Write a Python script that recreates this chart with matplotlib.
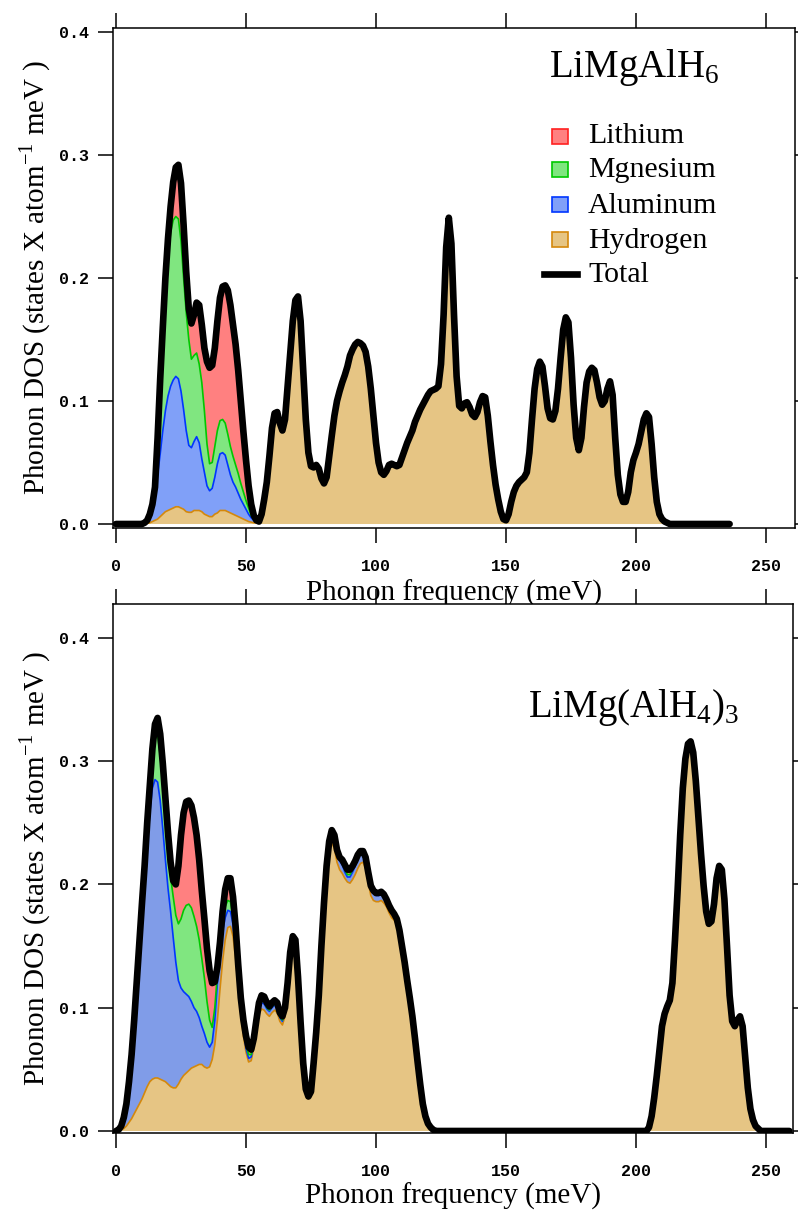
import numpy as np
import matplotlib
matplotlib.use('Agg')
import matplotlib.pyplot as plt
from matplotlib.patches import Rectangle
from matplotlib.lines import Line2D

# ---------------- data (1 meV sampling grid) ----------------
total_top = [
    0, 0, 0, 0, 0, 0, 0, 0, 0, 0,
    0, .001, .003, .008, .016, .03, .07, .118, .16, .2,
    .232, .258, .278, .29, .292, .277, .243, .205, .175, .163,
    .17, .18, .178, .162, .143, .132, .127, .129, .143, .165,
    .184, .193, .194, .19, .178, .162, .146, .125, .1, .075,
    .052, .031, .016, .007, .003, .002, .008, .02, .034, .055,
    .078, .09, .091, .082, .076, .085, .112, .138, .165, .182,
    .185, .165, .125, .085, .058, .047, .046, .048, .045, .037,
    .033, .038, .055, .072, .088, .1, .108, .115, .121, .128,
    .137, .142, .146, .148, .147, .145, .14, .128, .11, .088,
    .066, .05, .042, .04, .043, .048, .049, .048, .047, .048,
    .054, .06, .066, .071, .076, .083, .088, .093, .097, .101,
    .105, .108, .109, .11, .112, .13, .17, .225, .249, .228,
    .17, .12, .096, .094, .098, .099, .095, .089, .087, .091,
    .099, .104, .103, .088, .067, .048, .032, .02, .01, .004,
    .003, .008, .018, .026, .031, .034, .036, .038, .042, .058,
    .085, .11, .126, .132, .128, .112, .094, .086, .085, .092,
    .11, .135, .158, .168, .164, .135, .097, .07, .06, .07,
    .095, .115, .124, .127, .125, .115, .103, .097, .1, .11,
    .116, .105, .07, .04, .024, .018, .018, .026, .042, .052,
    .058, .065, .075, .085, .09, .087, .065, .038, .018, .008,
    .004, .002, .001, 0, 0, 0, 0, 0, 0, 0,
    0, 0, 0, 0, 0, 0, 0, 0, 0, 0,
    0, 0, 0, 0, 0, 0, 0,
]
# stacked edges (cumulative) at low frequency; above these ranges H == total
hydrogen_top = [
    0, 0, 0, 0, 0, 0, 0, 0, 0, 0,
    0, 0, .0005, .001, .002, .003, .004, .006, .008, .01,
    .011, .012, .013, .014, .014, .013, .012, .01, .0095, .0095,
    .011, .011, .011, .01, .008, .007, .006, .006, .008, .009,
    .011, .011, .011, .01, .009, .008, .007, .006, .005, .004,
    .003, .002, .0015, .001, .001, .0015, .008,
]
h_al_top = [
    0, 0, 0, 0, 0, 0, 0, 0, 0, 0,
    0, .001, .003, .007, .012, .024, .04, .057, .076, .092,
    .104, .112, .117, .12, .118, .108, .093, .076, .064, .062,
    .067, .071, .066, .053, .042, .031, .027, .029, .038, .049,
    .057, .058, .056, .048, .04, .034, .03, .025, .02, .016,
    .012, .008, .005, .003, .002, .0018, .008,
]
h_al_mg_top = [
    0, 0, 0, 0, 0, 0, 0, 0, 0, 0,
    0, .001, .003, .008, .016, .03, .066, .11, .15, .188,
    .217, .237, .247, .25, .248, .23, .2, .172, .15, .134,
    .137, .139, .13, .115, .092, .065, .049, .05, .063, .076,
    .084, .085, .082, .073, .063, .055, .048, .041, .033, .026,
    .019, .013, .007, .004, .002, .0019, .008,
]

total_bot = [
    0, .001, .004, .011, .022, .04, .062, .09, .122, .155,
    .185, .215, .25, .28, .31, .33, .335, .322, .298, .27,
    .242, .218, .203, .2, .215, .24, .258, .267, .268, .264,
    .254, .24, .22, .195, .172, .148, .13, .12, .121, .133,
    .153, .178, .196, .205, .205, .19, .166, .135, .108, .09,
    .077, .068, .066, .075, .09, .104, .11, .109, .104, .101,
    .104, .106, .104, .096, .093, .1, .12, .145, .158, .155,
    .125, .088, .055, .034, .028, .032, .055, .08, .11, .15,
    .185, .215, .235, .244, .24, .228, .222, .22, .216, .212,
    .212, .215, .219, .224, .227, .227, .222, .21, .199, .195,
    .193, .193, .194, .192, .188, .183, .179, .176, .172, .163,
    .15, .137, .122, .108, .093, .075, .056, .038, .022, .012,
    .006, .003, .001, 0, 0, 0, 0, 0, 0, 0,
    0, 0, 0, 0, 0, 0, 0, 0, 0, 0,
    0, 0, 0, 0, 0, 0, 0, 0, 0, 0,
    0, 0, 0, 0, 0, 0, 0, 0, 0, 0,
    0, 0, 0, 0, 0, 0, 0, 0, 0, 0,
    0, 0, 0, 0, 0, 0, 0, 0, 0, 0,
    0, 0, 0, 0, 0, 0, 0, 0, 0, 0,
    0, 0, 0, 0, 0, 0, 0, 0, 0, 0,
    0, 0, 0, 0, 0, .003, .012, .027, .045, .065,
    .085, .095, .101, .106, .12, .155, .195, .24, .278, .302,
    .314, .316, .307, .284, .254, .225, .199, .178, .168, .17,
    .184, .205, .215, .212, .188, .15, .11, .089, .085, .09,
    .093, .085, .06, .035, .018, .009, .004, .002, 0, 0,
    0, 0, 0, 0, 0, 0, 0, 0, 0, 0,
]
hydrogen_bot = [
    0, 0, .001, .002, .004, .007, .01, .014, .018, .022,
    .026, .031, .036, .04, .042, .043, .043, .042, .041, .04,
    .038, .036, .035, .035, .038, .042, .045, .047, .049, .051,
    .052, .053, .054, .054, .052, .051, .052, .058, .07, .09,
    .115, .138, .155, .165, .166, .158, .14, .117, .094, .077,
    .064, .056, .057, .068, .083, .095, .099, .098, .095, .093,
    .096, .098, .096, .089, .086, .093, .113, .138, .152, .15,
    .121, .085, .052, .032, .026, .03, .052, .077, .106, .145,
    .179, .208, .227, .234, .229, .218, .212, .209, .205, .202,
    .201, .204, .208, .213, .217, .218, .213, .202, .191, .187,
    .186, .186, .187, .185, .182, .177, .173, .171, .167, .159,
    .146, .134, .119, .105, .091, .073, .055, .037, .021, .011,
    .005, .002, .001,
]
h_al_bot = [
    0, .001, .004, .011, .021, .038, .058, .085, .113, .143,
    .172, .2, .23, .258, .278, .285, .283, .268, .245, .22,
    .197, .178, .157, .137, .122, .116, .113, .111, .109, .105,
    .1, .097, .092, .085, .079, .072, .068, .072, .09, .12,
    .145, .162, .173, .179, .178, .168, .148, .123, .099, .081,
    .067, .059, .06, .071, .087, .099, .104, .103, .099, .097,
    .1, .102, .1, .092, .089, .096, .116, .141, .155, .152,
    .123, .086, .053, .033, .027, .031, .054, .079, .108, .148,
    .183, .213, .233, .242, .238, .226, .219, .216, .21, .206,
    .206, .21, .215, .221, .225, .225, .22, .208, .197, .193,
    .191, .191, .192, .19, .186, .181, .177, .174, .17, .161,
    .148, .136, .121, .107, .092, .074, .056, .038, .022, .012,
    .006, .003, .001,
]
h_al_mg_bot = [
    0, .001, .004, .011, .022, .04, .061, .089, .12, .152,
    .182, .211, .245, .273, .3, .318, .321, .305, .28, .252,
    .226, .206, .19, .175, .168, .172, .179, .183, .184, .181,
    .174, .166, .155, .14, .124, .105, .09, .084, .1, .127,
    .152, .17, .182, .187, .186, .174, .153, .127, .102, .084,
    .07, .062, .062, .072, .088, .101, .106, .105, .1, .098,
    .101, .103, .101, .093, .09, .097, .117, .142, .156, .153,
    .124, .087, .054, .034, .028, .032, .055, .08, .109, .149,
    .184, .214, .234, .243, .239, .227, .22, .218, .212, .208,
    .208, .212, .217, .222, .226, .226, .221, .209, .198, .194,
    .192, .192, .193, .191, .187, .182, .178, .175, .171, .162,
    .149, .136, .121, .107, .092, .074, .056, .038, .022, .012,
    .006, .003, .001,
]

species = ["Lithium", "Mgnesium", "Aluminum", "Hydrogen"]
titles = ["LiMgAlH$_\\mathregular{6}$", "LiMg(AlH$_\\mathregular{4}$)$_\\mathregular{3}$"]
xticks = [0, 50, 100, 150, 200, 250]
yticks = [0.0, 0.1, 0.2, 0.3, 0.4]

# ---------------- style ----------------
plt.rcParams['mathtext.fontset'] = 'custom'
plt.rcParams['mathtext.rm'] = 'Liberation Serif'
SERIF = 'Liberation Serif'
MONO = 'Liberation Mono'
LI_F, LI_E = '#FF8080', '#FF2020'
MG_F, MG_E = '#80E680', '#00C800'
AL_F, AL_E = '#80A0F8', '#0036FF'
H_F, H_E = '#E6C584', '#D4880C'
TOTAL_LW = 4.8

W, H = 798, 1211
fig = plt.figure(figsize=(W / 100, H / 100), dpi=100)


def build(total, h_low, hal_low, halmg_low):
    total = np.asarray(total, float)
    n = len(h_low)
    h = np.concatenate([h_low, total[n:]])
    hal = np.concatenate([hal_low, total[n:]])
    halmg = np.concatenate([halmg_low, total[n:]])
    h = np.minimum(h, total)
    hal = np.clip(hal, h, total)
    halmg = np.clip(halmg, hal, total)
    return total, h, hal, halmg


def panel(rect, total, h_low, hal_low, halmg_low, ylim, xlim, al_fill):
    ax = fig.add_axes(rect)
    tot, h, hal, halmg = build(total, h_low, hal_low, halmg_low)
    f = np.arange(len(tot))
    ax.fill_between(f, 0, h, facecolor=H_F, lw=0)
    ax.fill_between(f, h, hal, facecolor=al_fill, lw=0)
    ax.fill_between(f, hal, halmg, facecolor=MG_F, lw=0)
    ax.fill_between(f, halmg, tot, facecolor=LI_F, lw=0)
    ax.plot(f, h, color=H_E, lw=1.2)
    ax.plot(f, hal, color=AL_E, lw=1.2)
    ax.plot(f, halmg, color=MG_E, lw=1.2)
    ax.plot(f, tot, color='black', lw=TOTAL_LW, solid_joinstyle='round',
            solid_capstyle='round')
    ax.set_xlim(*xlim)
    ax.set_ylim(*ylim)
    ax.set_xticks(xticks)
    ax.set_yticks(yticks)
    ax.set_yticklabels([f"{v:.1f}" for v in yticks])
    ax.tick_params(direction='out', length=11, width=1.1, top=True, right=True,
                   labelsize=12)
    ax.tick_params(axis='y', pad=6)
    ax.tick_params(axis='x', pad=11)
    for lab in ax.get_xticklabels() + ax.get_yticklabels():
        lab.set_fontfamily(MONO)
        lab.set_fontweight('bold')
    for s in ax.spines.values():
        s.set_linewidth(1.1)
    ax.set_xlabel("Phonon frequency (meV)", fontfamily=SERIF, fontsize=21)
    ax.set_ylabel("Phonon DOS (states X atom$^\\mathregular{-1}$ meV )",
                  fontfamily=SERIF, fontsize=21)
    ax.yaxis.set_label_coords(-0.088, 0.5)
    return ax


# top panel (pixel geometry)
ax1 = panel([113 / W, 1 - 528 / H, 682 / W, 500 / H], total_top, hydrogen_top,
            h_al_top, h_al_mg_top, (-4 / 1230, 496 / 1230), (-3 / 2.6, 679 / 2.6), AL_F)
ax1.xaxis.set_label_coords(0.5, -0.104)
ax2 = panel([113 / W, 1 - 1133 / H, 680 / W, 529 / H], total_bot, hydrogen_bot,
            h_al_bot, h_al_mg_bot, (-2 / 1233, 527 / 1233), (-3 / 2.6, 677 / 2.6), '#809CE8')
ax2.xaxis.set_label_coords(0.5, -0.094)

# titles
ax1.text((549 - 113) / 682, (528 - 76.7) / 500, titles[0], transform=ax1.transAxes,
         fontfamily=SERIF, fontsize=28, va='baseline', ha='left')
ax2.text((528 - 113) / 680, (1133 - 716.7) / 529, titles[1], transform=ax2.transAxes,
         fontfamily=SERIF, fontsize=28, va='baseline', ha='left')

# legend (top panel)
fills = [(LI_F, LI_E), (MG_F, MG_E), (AL_F, AL_E), (H_F, H_E)]
centers = [136, 169, 204, 239]
baselines = [142.7, 177.3, 212.7, 248.3, 281.7]
for i, name in enumerate(species):
    fc, ec = fills[i]
    ax1.add_patch(Rectangle(((552 - 113) / 682, (528 - centers[i] - 7.5) / 500),
                            16 / 682, 15 / 500, transform=ax1.transAxes,
                            facecolor=fc, edgecolor=ec, lw=1.2, clip_on=False))
    ax1.text((588 - 113) / 682, (528 - baselines[i]) / 500, name,
             transform=ax1.transAxes, fontfamily=SERIF, fontsize=21.5,
             va='baseline', ha='left')
ax1.add_line(Line2D([(544 - 113) / 682, (577 - 113) / 682],
                    [(528 - 274.3) / 500] * 2, transform=ax1.transAxes,
                    color='black', lw=TOTAL_LW))
ax1.text((588 - 113) / 682, (528 - baselines[4]) / 500, "Total",
         transform=ax1.transAxes, fontfamily=SERIF, fontsize=21.5,
         va='baseline', ha='left')

fig.savefig('out.png', dpi=100)
